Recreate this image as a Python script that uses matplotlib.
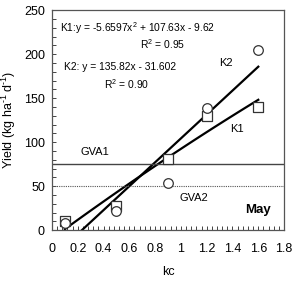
import numpy as np
import matplotlib.pyplot as plt
from matplotlib.ticker import MultipleLocator

plt.rcParams['font.family'] = ['Liberation Sans', 'DejaVu Sans']
plt.rcParams['mathtext.fontset'] = 'custom'
plt.rcParams['mathtext.rm'] = 'Liberation Sans'

# measured points
kc = [0.1, 0.5, 0.9, 1.2, 1.6]
k1_yield = [10, 27, 81, 130, 140]
k2_yield = [8, 22, 54, 139, 205]

# fitted curves
k1_coef = [-5.6597, 107.63, -9.62]
k2_coef = [135.82, -31.602]
gva1 = 75
gva2 = 50

fig = plt.figure(figsize=(2.95, 2.81), dpi=100)
ax = fig.add_axes([0.176, 0.181, 0.787, 0.783])

x1 = np.linspace(0.1, 1.6, 100)
ax.plot(x1, np.polyval(k1_coef, x1), color='black', lw=1.6)
x2 = np.linspace(-k2_coef[1] / k2_coef[0], 1.6, 100)
ax.plot(x2, np.polyval(k2_coef, x2), color='black', lw=1.6)

ax.axhline(gva1, color='#444444', lw=1.0)
ax.axhline(gva2, color='#555555', lw=0.8, ls=(0, (1, 1)))

ax.scatter(kc, k1_yield, marker='s', s=48, facecolors='white', edgecolors='#333333', lw=0.9, zorder=3)
ax.scatter(kc, k2_yield, marker='o', s=48, facecolors='white', edgecolors='#333333', lw=0.9, zorder=4)

ax.text(0.06, 230, 'K1:y = -5.6597x$^2$ + 107.63x - 9.62', fontsize=7.4, va='center')
ax.text(0.68, 211, 'R$^2$ = 0.95', fontsize=7.4, va='center')
ax.text(0.09, 185, 'K2: y = 135.82x - 31.602', fontsize=7.4, va='center')
ax.text(0.4, 166, 'R$^2$ = 0.90', fontsize=7.4, va='center')
ax.text(1.3, 190, 'K2', fontsize=8, va='center')
ax.text(1.38, 115, 'K1', fontsize=8, va='center')
ax.text(0.22, 89, 'GVA1', fontsize=8, va='center')
ax.text(0.99, 37, 'GVA2', fontsize=8, va='center')
ax.text(1.5, 23, 'May', fontsize=9.5, fontweight='bold', va='center')

ax.set_xlim(0, 1.8)
ax.set_ylim(0, 250)
ax.set_xticks(np.arange(0, 1.81, 0.2))
ax.set_xticklabels(['0', '0.2', '0.4', '0.6', '0.8', '1', '1.2', '1.4', '1.6', '1.8'])
ax.set_yticks(np.arange(0, 251, 50))
ax.xaxis.set_minor_locator(MultipleLocator(0.04))
ax.yaxis.set_minor_locator(MultipleLocator(10))
ax.tick_params(which='both', direction='in', length=3, width=0.7, color='#444444', labelsize=9)
ax.tick_params(axis='x', pad=9)
ax.tick_params(axis='y', pad=5)
for sp in ax.spines.values():
    sp.set_color('#555555')
    sp.set_linewidth(0.9)

ax.set_xlabel('kc', fontsize=9, labelpad=8)
ax.set_ylabel('Yield (kg ha$^{\\text{-1}}$ d$^{\\text{-1}}$)', fontsize=9, labelpad=4)

fig.savefig('out.png', dpi=100)
